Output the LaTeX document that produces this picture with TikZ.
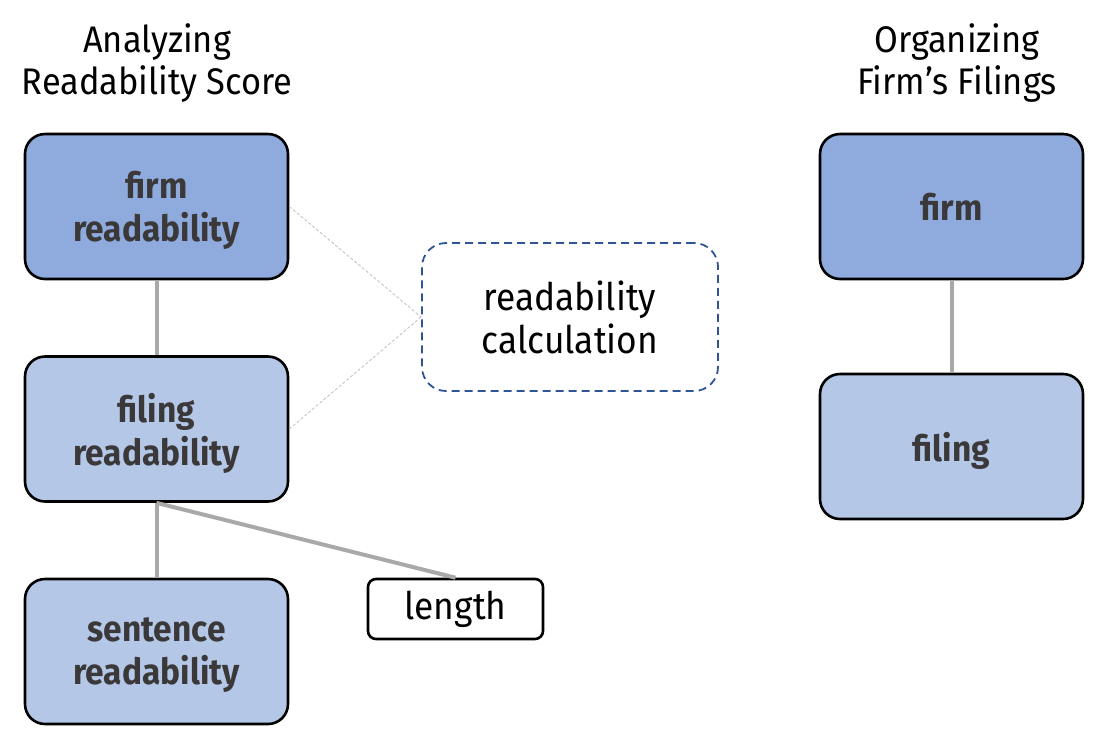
\documentclass[tikz,border=0pt]{standalone}
\usepackage{fontspec}
\setmainfont[FakeStretch=0.93]{Fira Sans}
\definecolor{darkfill}{HTML}{8FAADC}
\definecolor{lightfill}{HTML}{B4C7E7}
\definecolor{boxtext}{HTML}{3A3838}
\definecolor{linkgray}{HTML}{ABA8A8}
\definecolor{calcblue}{HTML}{2F5597}
\begin{document}
\begin{tikzpicture}[x=1pt,y=-1pt,
  level/.style={draw=black, line width=2.6pt, rounded corners=20pt, minimum width=263pt, minimum height=145pt,
    align=center, text depth=0pt, text=boxtext, font=\bfseries\fontsize{36}{43}\selectfont},
  top/.style={level, fill=darkfill},
  sub/.style={level, fill=lightfill},
  title/.style={align=center, font=\fontsize{37}{42}\selectfont},
  link/.style={linkgray, line width=4pt},
  hint/.style={gray!50, line width=0.8pt, dash pattern=on 3pt off 2pt}]
\useasboundingbox (0,0) rectangle (1118,740);

% left column: readability score
\node[title] (lefttitle) at (157,63) {Analyzing\\Readability Score};
\node[top] (firmread) at (156.5,206.5) {firm\\readability};
\node[sub] (filingread) at (156.5,429) {filing\\readability};
\node[sub] (sentread) at (156.5,651.5) {sentence\\readability};
\node[draw=black, line width=2.6pt, rounded corners=8pt, minimum width=175pt, minimum height=60pt,
  font=\fontsize{38}{42}\selectfont] (length) at (455.5,609) {length};

% calculation box
\node[draw=calcblue, line width=1.8pt, dash pattern=on 8pt off 5pt, rounded corners=24pt,
  minimum width=296pt, minimum height=148pt, align=center, font=\fontsize{38}{43}\selectfont] (calc) at (570,317) {readability\\calculation};

\draw[link] (firmread.south) -- (filingread.north);
\draw[link] (filingread.south) -- (sentread.north);
\draw[link] (filingread.south) -- (length.north);
\draw[hint] (firmread.east) -- (calc.west);
\draw[hint] (filingread.east) -- (calc.west);

% right column: filings
\node[title] (righttitle) at (957,63) {Organizing\\Firm’s Filings};
\node[top] (firm) at (951.5,206.5) {firm};
\node[sub] (filing) at (951.5,446.5) {filing};
\draw[link] (firm.south) -- (filing.north);

\end{tikzpicture}
\end{document}
